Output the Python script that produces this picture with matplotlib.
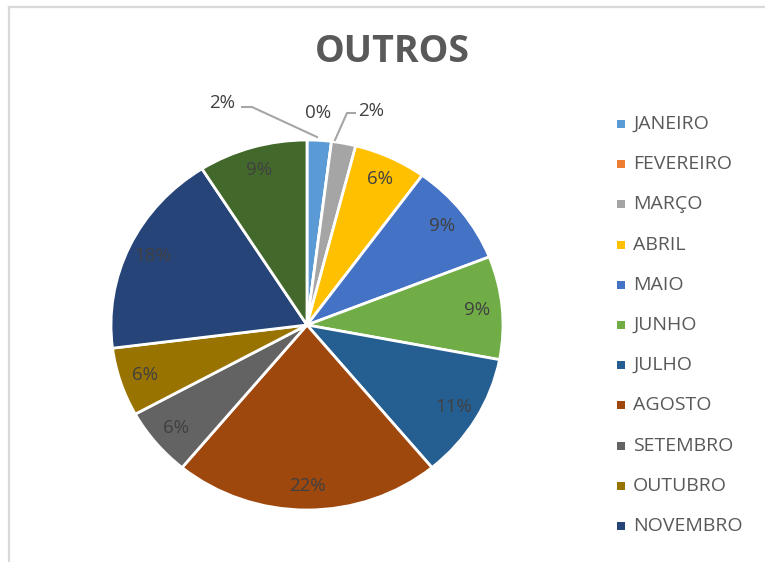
import numpy as np
import matplotlib
matplotlib.use('Agg')
import matplotlib.pyplot as plt
from matplotlib.patches import Rectangle
from matplotlib.lines import Line2D

plt.rcParams['font.family'] = ['Open Sans', 'DejaVu Sans']

meses = ['JANEIRO', 'FEVEREIRO', 'MARÇO', 'ABRIL', 'MAIO', 'JUNHO', 'JULHO',
         'AGOSTO', 'SETEMBRO', 'OUTUBRO', 'NOVEMBRO', 'DEZEMBRO']
percentuais = [2, 0, 2, 6, 9, 9, 11, 22, 6, 6, 18, 9]
cores = ['#5B9BD5', '#ED7D31', '#A5A5A5', '#FFC000', '#4472C4', '#70AD47',
         '#255E91', '#9E480E', '#636363', '#997300', '#264478', '#43682B']

W, H = 765, 562
cx, cy = 307, 325      # centro da pizza (px)
rx, ry = 196, 185      # raios horizontal / vertical (px)

fig = plt.figure(figsize=(W / 100, H / 100), dpi=100)
fig.patch.set_facecolor('white')

# moldura cinza clara (topo e esquerda)
fig.add_artist(Line2D([9 / W, 9 / W], [0, 1 - 7 / H], color='#D9D9D9', lw=1.6))
fig.add_artist(Line2D([9 / W, 1], [1 - 7 / H, 1 - 7 / H], color='#D9D9D9', lw=1.6))

ax = fig.add_axes([0, 0, 1, 1])
wedges, _ = ax.pie(percentuais, colors=cores, startangle=90, counterclock=False,
                   wedgeprops=dict(edgecolor='white', linewidth=2))
ax.set_aspect('auto')
ax.set_xlim(-cx / rx, (W - cx) / rx)
ax.set_ylim(-(H - cy) / ry, cy / ry)
ax.axis('off')


def px(x, y):
    return (x - cx) / rx, (cy - y) / ry


# rótulos internos
for p, w in zip(percentuais, wedges):
    meio = np.deg2rad((w.theta1 + w.theta2) / 2)
    if p >= 5:
        d = 0.87
        ax.text(d * np.cos(meio), d * np.sin(meio), f'{p}%', ha='center', va='center',
                fontsize=13.5, color='#404040')

# rótulos externos com linhas de chamada
ax.text(*px(222, 103), f'{percentuais[0]}%', ha='center', va='center', fontsize=13.5, color='#404040')
ax.text(*px(318, 113), f'{percentuais[1]}%', ha='center', va='center', fontsize=13.5, color='#404040')
ax.text(*px(371, 111), f'{percentuais[2]}%', ha='center', va='center', fontsize=13.5, color='#404040')
l1 = [px(242, 107), px(252, 107), px(317, 137)]
ax.plot([p[0] for p in l1], [p[1] for p in l1], color='#A6A6A6', lw=1.5)
l2 = [px(355, 113), px(347, 113), px(335, 140)]
ax.plot([p[0] for p in l2], [p[1] for p in l2], color='#A6A6A6', lw=1.5)

fig.text(392 / W, 1 - 52 / H, 'OUTROS', ha='center', va='center', fontsize=27,
         fontweight='bold', color='#595959')

# legenda (o último mês fica fora da área visível)
for i, (m, c) in enumerate(zip(meses[:11], cores[:11])):
    y = 124 + i * 40.2
    fig.add_artist(Rectangle((617 / W, 1 - (y + 4) / H), 8 / W, 8 / H,
                             facecolor=c, edgecolor='none'))
    fig.text(633 / W, 1 - y / H, m, ha='left', va='center', fontsize=14,
             color='#595959')

fig.savefig('out.png', dpi=100)
